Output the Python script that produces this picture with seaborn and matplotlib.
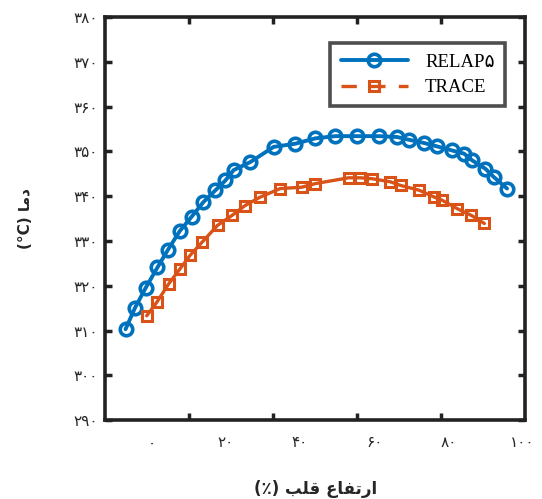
import numpy as np
import pandas as pd
import matplotlib
matplotlib.use("Agg")
import matplotlib.pyplot as plt
import seaborn as sns

# Core height (%) and temperature (°C) for each code
relap_x = [-7.0, -4.5, -1.6, 1.6, 4.4, 7.6, 10.8, 14.0, 17.2, 19.9, 22.1, 26.6,
           32.9, 38.7, 44.1, 49.5, 55.4, 61.2, 66.2, 69.3, 73.3, 77.0, 81.0,
           84.2, 86.4, 90.0, 92.2, 95.8]
relap_y = [310.3, 315.0, 319.5, 324.1, 328.0, 332.2, 335.4, 338.7, 341.3, 343.5,
           345.8, 347.6, 351.0, 351.7, 352.9, 353.4, 353.4, 353.4, 353.2, 352.6,
           351.9, 351.1, 350.2, 349.5, 348.0, 346.1, 344.3, 341.7]

trace_x = [-1.3, 1.4, 4.6, 7.7, 10.4, 13.6, 17.8, 21.7, 25.2, 29.3, 34.7, 40.5,
           44.1, 53.1, 56.3, 59.4, 64.4, 67.1, 72.2, 76.2, 78.3, 82.4, 86.2, 89.7]
trace_y = [313.3, 316.3, 320.4, 323.8, 326.8, 329.7, 333.5, 335.7, 337.9, 339.8,
           341.7, 342.0, 342.8, 344.1, 344.1, 343.9, 343.2, 342.4, 341.3, 339.8,
           339.1, 337.2, 335.7, 333.9]

x_ticks = [0, 20, 40, 60, 80, 100]
y_ticks = [290, 300, 310, 320, 330, 340, 350, 360, 370, 380]

series_names = ["RELAP\u06f5", "TRACE"]
blue = "#0072BD"
orange = "#D95319"

PERSIAN = str.maketrans("0123456789", "\u06f0\u06f1\u06f2\u06f3\u06f4\u06f5\u06f6\u06f7\u06f8\u06f9")


def fa_num(v):
    return str(v).translate(PERSIAN)


# Arabic-script labels in visual (left-to-right) order with contextual glyph forms
# "ارتفاع قلب (٪)"
xlabel = "(\u066a) " + "\ufe90\ufee0\ufed7" + " " + "\ufec9\ufe8e\ufed4\ufe97\ufead\ufe8d"
# "دما (°C)"
ylabel = "(\u00b0C) " + "\ufe8e\ufee3\ufea9"

df = pd.concat([
    pd.DataFrame({"h": relap_x, "T": relap_y, "code": series_names[0]}),
    pd.DataFrame({"h": trace_x, "T": trace_y, "code": series_names[1]}),
])

sns.set_style("ticks")
plt.rcParams["font.family"] = ["DejaVu Sans"]

fig = plt.figure(figsize=(5.42, 4.99), dpi=100)
ax = fig.add_axes([0.194, 0.158, 0.775, 0.808])

sns.lineplot(data=df[df.code == series_names[0]], x="h", y="T", ax=ax,
             color=blue, linewidth=2.8, marker="o", markersize=9,
             markerfacecolor="none", markeredgecolor=blue, markeredgewidth=2.6,
             label=series_names[0], sort=False)
sns.lineplot(data=df[df.code == series_names[1]], x="h", y="T", ax=ax,
             color=orange, linewidth=2.4, marker="s", markersize=7.5,
             markerfacecolor="none", markeredgecolor=orange, markeredgewidth=2.2,
             label=series_names[1], sort=False)

xlo, xhi = -12.5, 100.7
ax.set_xlim(xlo, xhi)
ax.set_ylim(290, 380)

# labelled positions (no marks) and evenly spaced frame ticks
ax.set_xticks(x_ticks)
ax.set_xticklabels([fa_num(v) for v in x_ticks], fontsize=11)
ax.tick_params(axis="x", which="major", length=0, pad=11)
ax.set_xticks(np.linspace(xlo, xhi, 6)[1:-1], minor=True)
ax.tick_params(axis="x", which="minor", direction="in", length=5, width=2.5,
               top=True, bottom=True, color="#222222")

ax.set_yticks(y_ticks)
ax.set_yticklabels([fa_num(v) for v in y_ticks], fontsize=11)
ax.tick_params(axis="y", which="major", direction="in", length=5, width=2.5,
               left=True, right=True, pad=5, color="#222222")

for s in ax.spines.values():
    s.set_linewidth(2.6)
    s.set_color("#222222")
    s.set_visible(True)

ax.set_xlabel(xlabel, fontsize=12, fontweight="bold", labelpad=21)
ax.set_ylabel(ylabel, fontsize=11, fontweight="bold", labelpad=29)

leg = ax.legend(loc="upper right", bbox_to_anchor=(0.952, 0.935), borderaxespad=0,
                frameon=True, fancybox=False, handlelength=3.6, handletextpad=0.9,
                borderpad=0.55, labelspacing=0.45,
                prop={"family": ["Liberation Serif", "DejaVu Sans"], "size": 13.5})
leg.get_frame().set_edgecolor("#222222")
leg.get_frame().set_linewidth(2.6)
for t in leg.get_texts():
    t.set_color("black")
leg.get_lines()[1].set_linestyle((0, (4.6, 4.0)))

fig.savefig("out.png", dpi=100)
